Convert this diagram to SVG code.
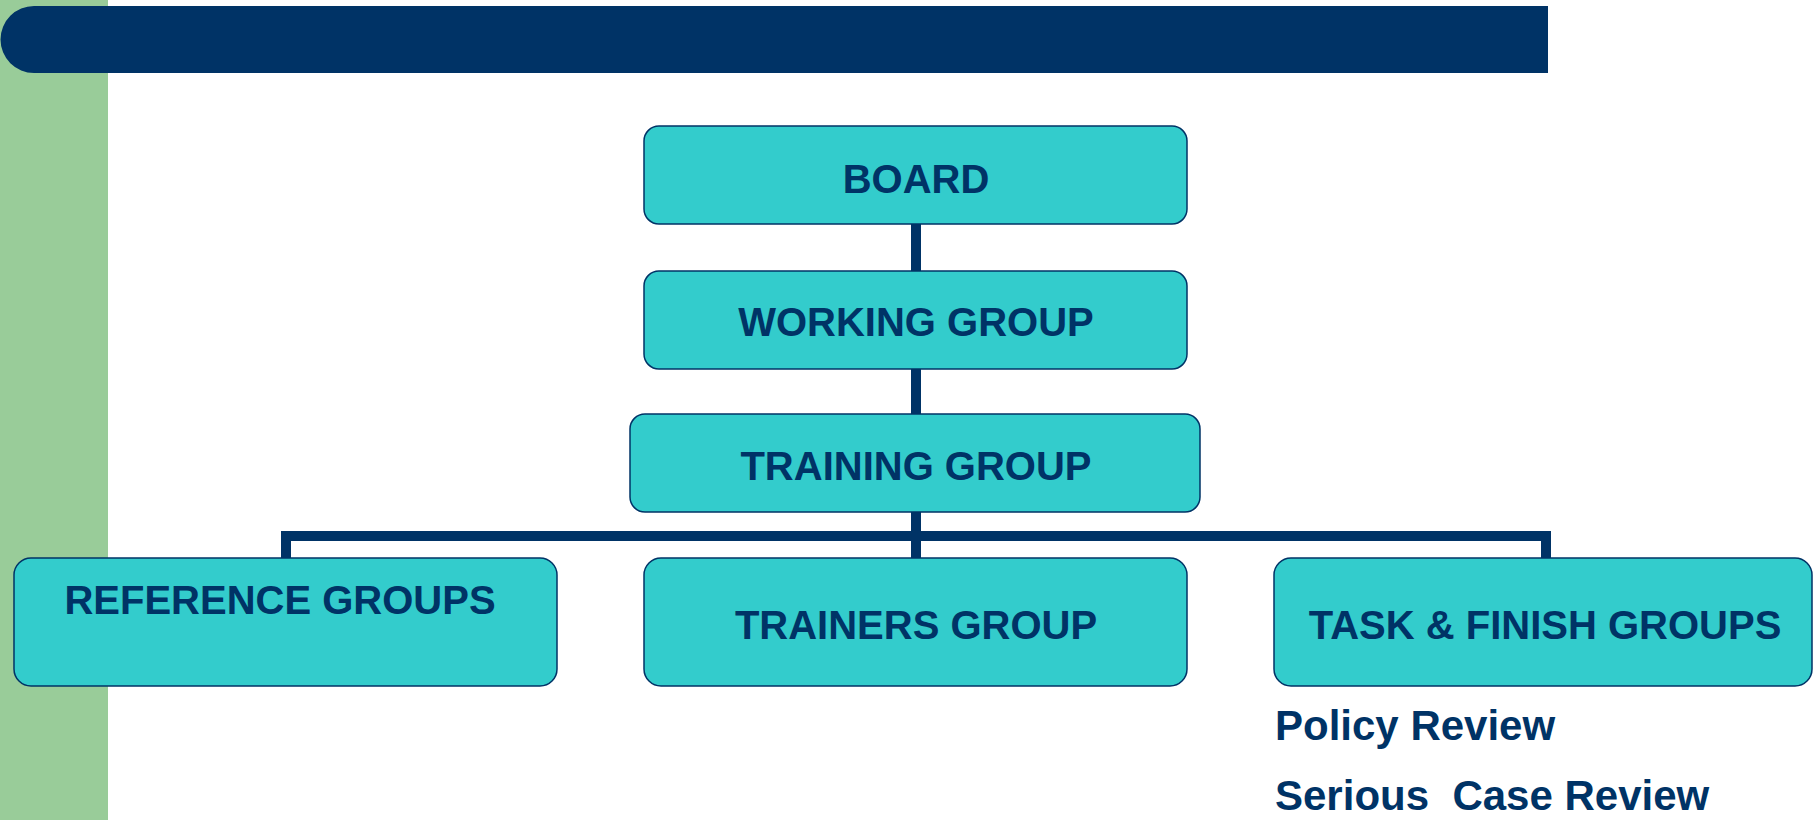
<svg xmlns="http://www.w3.org/2000/svg" width="1813" height="820" viewBox="0 0 1813 820">
<style>
.box{fill:#33CCCC;stroke:#003366;stroke-width:1.5}
.lbl{font-family:"Liberation Sans",Arial,sans-serif;font-weight:bold;font-size:40px;fill:#003366;text-anchor:middle}
.sub{font-family:"Liberation Sans",Arial,sans-serif;font-weight:bold;font-size:42px;fill:#003366;white-space:pre}
.con{stroke:#003366;stroke-width:10;fill:none}
</style>
<rect x="0" y="0" width="108" height="820" fill="#99CC99"/>
<path d="M34,6 H1548 V73 H34 A33.5,33.5 0 0 1 34,6 Z" fill="#003366"/>
<g id="connectors">
<line class="con" x1="916" y1="224" x2="916" y2="271"/>
<line class="con" x1="916" y1="368" x2="916" y2="414"/>
<line class="con" x1="916" y1="512" x2="916" y2="558"/>
<polyline class="con" points="286,558 286,536 1546,536 1546,558"/>
</g>
<g id="board">
<rect class="box" x="644" y="126" width="543" height="98" rx="15"/>
<text class="lbl" x="916" y="193">BOARD</text>
</g>
<g id="working">
<rect class="box" x="644" y="271" width="543" height="98" rx="15"/>
<text class="lbl" x="916" y="336">WORKING GROUP</text>
</g>
<g id="training">
<rect class="box" x="630" y="414" width="570" height="98" rx="15"/>
<text class="lbl" x="916" y="480">TRAINING GROUP</text>
</g>
<g id="reference">
<rect class="box" x="14" y="558" width="543" height="128" rx="17"/>
<text class="lbl" x="280" y="614">REFERENCE GROUPS</text>
</g>
<g id="trainers">
<rect class="box" x="644" y="558" width="543" height="128" rx="17"/>
<text class="lbl" x="916" y="639">TRAINERS GROUP</text>
</g>
<g id="taskfinish">
<rect class="box" x="1274" y="558" width="538" height="128" rx="17"/>
<text class="lbl" x="1545" y="639">TASK &amp; FINISH GROUPS</text>
<text class="sub" x="1275" y="740">Policy Review</text>
<text class="sub" x="1275" y="810" xml:space="preserve">Serious  Case Review</text>
</g>
</svg>
